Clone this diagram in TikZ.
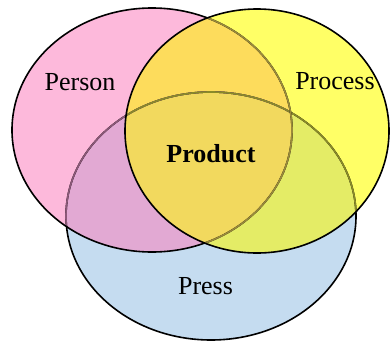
\documentclass[tikz,border=0pt]{standalone}
\usepackage{fontspec}
\setmainfont{Liberation Serif}
\definecolor{pinkonly}{HTML}{FDB9DB}
\definecolor{yellowonly}{HTML}{FFFF66}
\definecolor{blueonly}{HTML}{C5DCF0}
\definecolor{pinkyellow}{HTML}{FDDC5C}
\definecolor{pinkblue}{HTML}{E2A9D3}
\definecolor{yellowblue}{HTML}{E4EC66}
\definecolor{allthree}{HTML}{F2D95E}
\definecolor{oliveline}{HTML}{9A8A3A}
\definecolor{mauveline}{HTML}{8C5878}
\definecolor{greenline}{HTML}{8A8A28}
\begin{document}
\begin{tikzpicture}[x=1pt, y=-1pt,
  person/.style={insert path={(152,130) ellipse [x radius=140pt, y radius=122pt]}},
  process/.style={insert path={(257,131) ellipse [x radius=132pt, y radius=122pt]}},
  press/.style={insert path={(211,216) ellipse [x radius=145pt, y radius=124pt]}},
  rim/.style={line width=1.6pt},
  label/.style={font=\fontsize{26}{31}\selectfont, anchor=base, inner sep=0pt}]
\useasboundingbox (0,0) rectangle (390,345);

% single-set fills
\fill[pinkonly, person];
\fill[yellowonly, process];
\fill[blueonly, press];
% pairwise overlaps
\begin{scope}\clip[person]; \fill[pinkyellow, process];\end{scope}
\begin{scope}\clip[person]; \fill[pinkblue, press];\end{scope}
\begin{scope}\clip[process]; \fill[yellowblue, press];\end{scope}
% centre
\begin{scope}\clip[person]; \clip[process]; \fill[allthree, press];\end{scope}

% Press lies underneath: its outline is dimmed inside Person and Process
\draw[rim, black, press];
\begin{scope}\clip[person]; \draw[rim, mauveline, press];\end{scope}
\begin{scope}\clip[process]; \draw[rim, greenline, press];\end{scope}
% Person in the middle: dimmed only inside Process
\draw[rim, black, person];
\begin{scope}\clip[process]; \draw[rim, oliveline, person];\end{scope}
% Process on top
\draw[rim, black, process];

\node[label] (person) at (80,90) {Person};
\node[label] (process) at (335,89) {Process};
\node[label, font=\fontsize{26}{31}\selectfont\bfseries] (product) at (211,162) {Product};
\node[label] (press) at (205.5,294) {Press};
\end{tikzpicture}
\end{document}
